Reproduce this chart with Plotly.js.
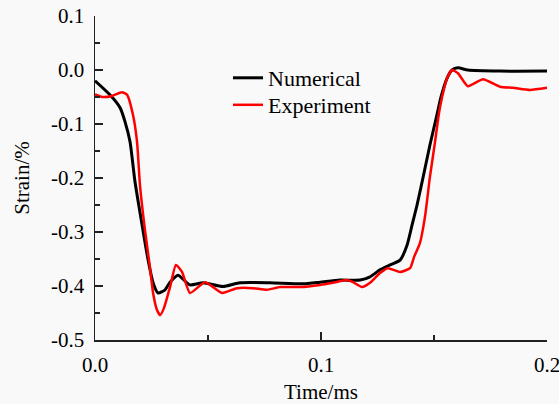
<!DOCTYPE html>
<html>
<head>
<meta charset="utf-8">
<script src="https://cdn.plot.ly/plotly-3.0.1.min.js"></script>
<style>html,body{margin:0;padding:0;background:#f9f9f9;}#chart{width:559px;height:404px;}</style>
</head>
<body>
<div id="chart"></div>
<script>
// Numerical (simulation) curve
const tNum = [0, 0.0066, 0.0111, 0.0133, 0.0155, 0.0177, 0.0212, 0.0235, 0.0257, 0.0279, 0.0310, 0.0332, 0.0367, 0.0420, 0.0478, 0.0566, 0.0642, 0.0774, 0.0920, 0.0996, 0.1084, 0.1173, 0.1217, 0.1261, 0.1305, 0.1350, 0.1381, 0.1403, 0.1425, 0.1451, 0.1482, 0.1513, 0.1531, 0.1558, 0.1580, 0.1606, 0.1650, 0.1792, 0.2000];
const sNum = [-0.020, -0.046, -0.070, -0.096, -0.133, -0.207, -0.296, -0.352, -0.394, -0.413, -0.407, -0.393, -0.380, -0.398, -0.394, -0.401, -0.394, -0.394, -0.396, -0.393, -0.389, -0.389, -0.383, -0.370, -0.361, -0.352, -0.324, -0.287, -0.250, -0.200, -0.139, -0.083, -0.050, -0.015, 0.000, 0.004, 0.000, -0.002, -0.002];

// Experiment curve
const tExp = [0, 0.0035, 0.0075, 0.0119, 0.0142, 0.0168, 0.0186, 0.0199, 0.0221, 0.0243, 0.0257, 0.0274, 0.0288, 0.0305, 0.0332, 0.0358, 0.0385, 0.0420, 0.0487, 0.0562, 0.0628, 0.0699, 0.0761, 0.0819, 0.0907, 0.0996, 0.1053, 0.1115, 0.1142, 0.1181, 0.1217, 0.1261, 0.1296, 0.1350, 0.1394, 0.1412, 0.1438, 0.1460, 0.1482, 0.1504, 0.1522, 0.1535, 0.1558, 0.1580, 0.1606, 0.1650, 0.1717, 0.1792, 0.1850, 0.1925, 0.2000];
const sExp = [-0.045, -0.050, -0.048, -0.041, -0.046, -0.083, -0.133, -0.213, -0.296, -0.365, -0.413, -0.444, -0.454, -0.441, -0.402, -0.361, -0.374, -0.413, -0.393, -0.413, -0.404, -0.404, -0.407, -0.402, -0.402, -0.398, -0.394, -0.389, -0.393, -0.402, -0.394, -0.376, -0.367, -0.374, -0.367, -0.346, -0.320, -0.272, -0.198, -0.135, -0.080, -0.052, -0.015, 0.000, -0.006, -0.030, -0.017, -0.031, -0.033, -0.037, -0.033];

// Tick labels
const xTickVals = [0, 0.1, 0.2];
const xTickText = ["0.0", "0.1", "0.2"];
const yTickVals = [0.1, 0.0, -0.1, -0.2, -0.3, -0.4, -0.5];
const yTickText = ["0.1", "0.0", "-0.1", "-0.2", "-0.3", "-0.4", "-0.5"];

const font = {family: "Liberation Serif, Times New Roman, serif", size: 21, color: "#000"};
const legFont = {family: "Liberation Serif, Times New Roman, serif", size: 22, color: "#000"};

const traces = [
  {x: tNum, y: sNum, type: "scatter", mode: "lines", name: "Numerical", legend: "legend",
   line: {color: "#000000", width: 3, shape: "spline", smoothing: 0.6}},
  {x: tExp, y: sExp, type: "scatter", mode: "lines", name: "Experiment", legend: "legend2",
   line: {color: "#ff0000", width: 2.5, shape: "spline", smoothing: 0.5}}
];

const axisCommon = {
  showgrid: false, zeroline: false, showline: true, linecolor: "#222", linewidth: 1.5,
  ticks: "inside", ticklen: 8, tickwidth: 1.5, tickcolor: "#222",
  tickfont: font, ticklabelstandoff: 5, ticklabeloverflow: "allow",
  minor: {ticks: "inside", ticklen: 5, tickwidth: 1.5, tickcolor: "#222", dtick: 0.05, showgrid: false}
};

const legX = (228 - 95) / 452;
const layout = {
  width: 559, height: 404,
  paper_bgcolor: "#f9f9f9", plot_bgcolor: "#f9f9f9",
  margin: {l: 95, r: 12, t: 16, b: 64},
  font: font,
  showlegend: true,
  legend: {x: legX, y: (340 - 78) / 324, xanchor: "left", yanchor: "middle",
           bgcolor: "rgba(0,0,0,0)", font: legFont},
  legend2: {x: legX, y: (340 - 105) / 324, xanchor: "left", yanchor: "middle",
           bgcolor: "rgba(0,0,0,0)", font: legFont},
  xaxis: Object.assign({}, axisCommon, {
    range: [0, 0.2], tickvals: xTickVals, ticktext: xTickText,
    title: {text: "Time/ms", font: font, standoff: 8}
  }),
  yaxis: Object.assign({}, axisCommon, {
    range: [-0.5, 0.1], tickvals: yTickVals, ticktext: yTickText,
    title: {text: "Strain/%", font: font, standoff: 15}
  })
};

Plotly.newPlot("chart", traces, layout, {displayModeBar: false, staticPlot: true});
</script>
</body>
</html>
